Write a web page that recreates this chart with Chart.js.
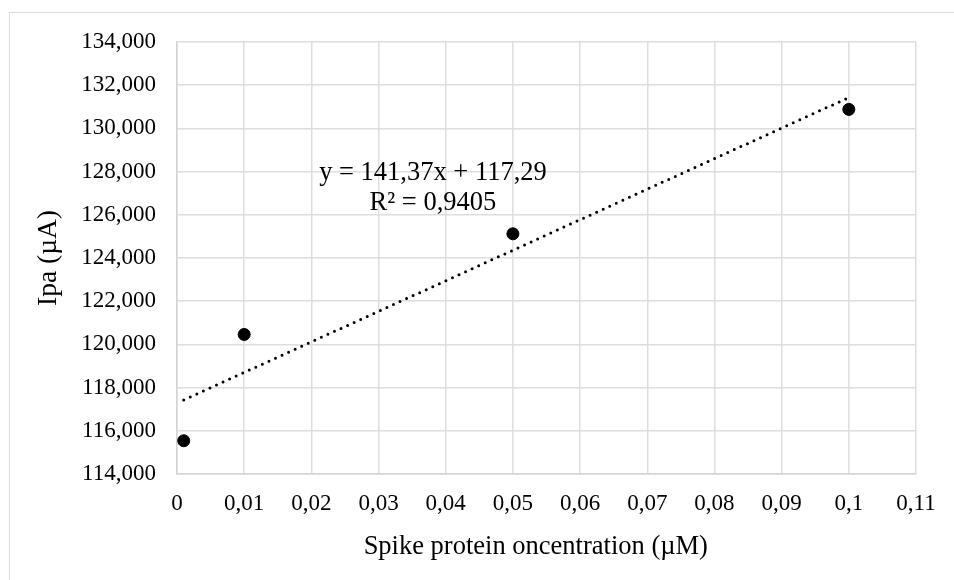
<!DOCTYPE html>
<html>
<head>
<meta charset="utf-8">
<script src="https://cdn.jsdelivr.net/npm/chart.js@4.4.1/dist/chart.umd.min.js"></script>
<style>
  html, body { margin: 0; padding: 0; background: #fff; overflow: hidden; }
  #wrap { position: relative; width: 954px; height: 580px; }
  #frame { position: absolute; left: 9px; top: 12px; width: 1000px; height: 1000px; border: 1.5px solid #dcdcdc; box-sizing: border-box; }
  canvas { position: absolute; left: 0; top: 0; }
</style>
</head>
<body>
<div id="wrap">
  <div id="frame"></div>
  <canvas id="c" width="954" height="580"></canvas>
</div>
<script>
// ---- data ----
const concentrations = [0.001, 0.01, 0.05, 0.1];
const ipaValues = [115.54, 120.46, 125.12, 130.88];
const trendX = [0.001, 0.1];
const trendY = [117.43, 131.43];
const xTickLabels = ['0', '0,01', '0,02', '0,03', '0,04', '0,05', '0,06', '0,07', '0,08', '0,09', '0,1', '0,11'];
const yTickLabels = ['114,000', '116,000', '118,000', '120,000', '122,000', '124,000', '126,000', '128,000', '130,000', '132,000', '134,000'];
const equationLines = ['y = 141,37x + 117,29', 'R² = 0,9405'];
const xTitle = 'Spike protein oncentration (µM)';
const yTitle = 'Ipa (µA)';

const FONT = 'Liberation Serif';
const TICK_FS = 23;
const TITLE_FS = 26.5;

const pointData = concentrations.map((x, i) => ({ x: x, y: ipaValues[i] }));
const trendData = trendX.map((x, i) => ({ x: x, y: trendY[i] }));

const textPlugin = {
  id: 'texts',
  afterDatasetsDraw(chart) {
    const { ctx, scales } = chart;
    ctx.save();
    ctx.fillStyle = '#000';
    ctx.font = TITLE_FS + 'px "' + FONT + '"';
    ctx.textAlign = 'center';
    ctx.textBaseline = 'middle';
    // trendline equation
    const cx = scales.x.getPixelForValue(0.0381);
    const y0 = scales.y.getPixelForValue(127.92);
    ctx.fillText(equationLines[0], cx, y0);
    ctx.fillText(equationLines[1], cx, y0 + 29.5);
    // x axis title
    ctx.fillText(xTitle, scales.x.getPixelForValue(0.0534), 547);
    ctx.restore();
  }
};

new Chart(document.getElementById('c'), {
  type: 'scatter',
  data: {
    datasets: [
      {
        type: 'line',
        data: trendData,
        borderColor: '#000',
        borderWidth: 3,
        borderDash: [0, 7.2],
        borderCapStyle: 'round',
        pointRadius: 0,
        fill: false,
        order: 2
      },
      {
        data: pointData,
        backgroundColor: '#000',
        borderColor: '#000',
        pointRadius: 6,
        pointHoverRadius: 6,
        order: 1
      }
    ]
  },
  options: {
    responsive: false,
    animation: false,
    devicePixelRatio: 1,
    layout: { padding: { top: 42, right: 38, left: 0, bottom: 0 } },
    plugins: { legend: { display: false }, tooltip: { enabled: false } },
    scales: {
      x: {
        type: 'linear',
        min: 0,
        max: 0.11,
        afterBuildTicks(scale) {
          scale.ticks = xTickLabels.map((_, i) => ({ value: i / 100 }));
        },
        afterFit(scale) { scale.height = 106; },
        grid: { color: '#dedede', lineWidth: 1.5, drawTicks: false },
        border: { color: '#d4d4d4', width: 1.5 },
        ticks: {
          color: '#000',
          font: { family: FONT, size: TICK_FS },
          padding: 16,
          maxRotation: 0,
          autoSkip: false,
          callback: (v, i) => xTickLabels[i]
        },
        title: { display: false }
      },
      y: {
        type: 'linear',
        min: 114,
        max: 134,
        afterBuildTicks(scale) {
          scale.ticks = yTickLabels.map((_, i) => ({ value: 114 + 2 * i }));
        },
        afterFit(scale) { scale.width = 177; },
        grid: { color: '#dedede', lineWidth: 1.5, drawTicks: false },
        border: { color: '#d4d4d4', width: 1.5 },
        ticks: {
          color: '#000',
          font: { family: FONT, size: TICK_FS },
          padding: 21,
          autoSkip: false,
          callback: (v, i) => yTickLabels[i]
        },
        title: {
          display: true,
          text: yTitle,
          color: '#000',
          font: { family: FONT, size: 27.5 },
          padding: { top: 32, bottom: 0 }
        }
      }
    }
  },
  plugins: [textPlugin]
});
</script>
</body>
</html>
